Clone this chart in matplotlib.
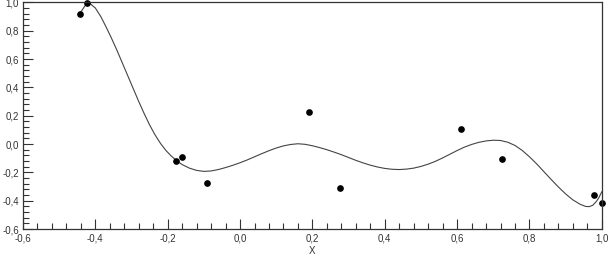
import numpy as np
import matplotlib
matplotlib.use('Agg')
import matplotlib.pyplot as plt
from matplotlib.ticker import MultipleLocator, FuncFormatter

# measured points
pts_x = [-0.442, -0.424, -0.178, -0.161, -0.090, 0.190, 0.277, 0.610, 0.724, 0.978, 1.000]
pts_y = [0.917, 0.995, -0.118, -0.090, -0.273, 0.225, -0.308, 0.106, -0.104, -0.360, -0.418]

# fitted curve
curve_x = [-0.445, -0.424, -0.419, -0.414, -0.400, -0.385, -0.370, -0.355, -0.340,
           -0.325, -0.310, -0.295, -0.280, -0.265, -0.250, -0.235, -0.220, -0.205,
           -0.190, -0.175, -0.160, -0.140, -0.120, -0.100, -0.080, -0.060, -0.040,
           -0.020, 0.000, 0.020, 0.040, 0.060, 0.080, 0.100, 0.120, 0.140, 0.160,
           0.180, 0.200, 0.220, 0.240, 0.260, 0.280, 0.300, 0.320, 0.340, 0.360,
           0.380, 0.400, 0.420, 0.440, 0.460, 0.480, 0.500, 0.520, 0.540, 0.560,
           0.580, 0.600, 0.620, 0.640, 0.660, 0.680, 0.700, 0.720, 0.740, 0.760,
           0.780, 0.800, 0.820, 0.840, 0.860, 0.880, 0.900, 0.920, 0.940, 0.955,
           0.965, 0.975, 0.985, 0.992, 1.000]
curve_y = [0.913, 0.993, 0.996, 0.990, 0.960, 0.900, 0.825, 0.745, 0.660,
           0.570, 0.480, 0.390, 0.300, 0.215, 0.135, 0.065, 0.005, -0.045,
           -0.085, -0.118, -0.145, -0.170, -0.186, -0.193, -0.190, -0.180, -0.166,
           -0.150, -0.132, -0.112, -0.090, -0.068, -0.047, -0.028, -0.013, -0.003, 0.002,
           -0.002, -0.012, -0.025, -0.040, -0.057, -0.075, -0.095, -0.115, -0.133, -0.149,
           -0.162, -0.172, -0.178, -0.180, -0.177, -0.170, -0.158, -0.142, -0.122, -0.098,
           -0.072, -0.046, -0.022, -0.003, 0.012, 0.022, 0.027, 0.025, 0.013, -0.010,
           -0.045, -0.090, -0.140, -0.195, -0.250, -0.303, -0.352, -0.394, -0.425, -0.440,
           -0.442, -0.432, -0.405, -0.378, -0.337]

plt.rcParams['font.family'] = ['Liberation Sans', 'DejaVu Sans']

fig = plt.figure(figsize=(6.08, 2.6), dpi=100)
ax = fig.add_axes([0.0378, 0.119, 0.952, 0.872])

ax.plot(curve_x, curve_y, color='#444444', lw=0.8)
ax.plot(pts_x, pts_y, 'o', color='black', ms=3.8, clip_on=False)

ax.set_xlim(-0.6, 1.0)
ax.set_ylim(-0.6, 1.0)

ax.xaxis.set_major_locator(MultipleLocator(0.2))
ax.xaxis.set_minor_locator(MultipleLocator(0.04))
ax.yaxis.set_major_locator(MultipleLocator(0.2))
ax.yaxis.set_minor_locator(MultipleLocator(0.04))

comma = FuncFormatter(lambda v, p: ('%.1f' % v).replace('.', ',').replace('-0,0', '0,0'))
ax.xaxis.set_major_formatter(comma)
ax.yaxis.set_major_formatter(comma)

ax.tick_params(which='both', direction='in', top=False, right=False,
               labelsize=7, colors='#333333', width=0.8)
ax.tick_params(which='major', length=7, pad=3)
ax.tick_params(which='minor', length=4)

for s in ax.spines.values():
    s.set_color('#333333')
    s.set_linewidth(0.9)

ax.set_xlabel('X', fontsize=7, color='#333333', labelpad=2)

fig.savefig('out.png', dpi=100)
